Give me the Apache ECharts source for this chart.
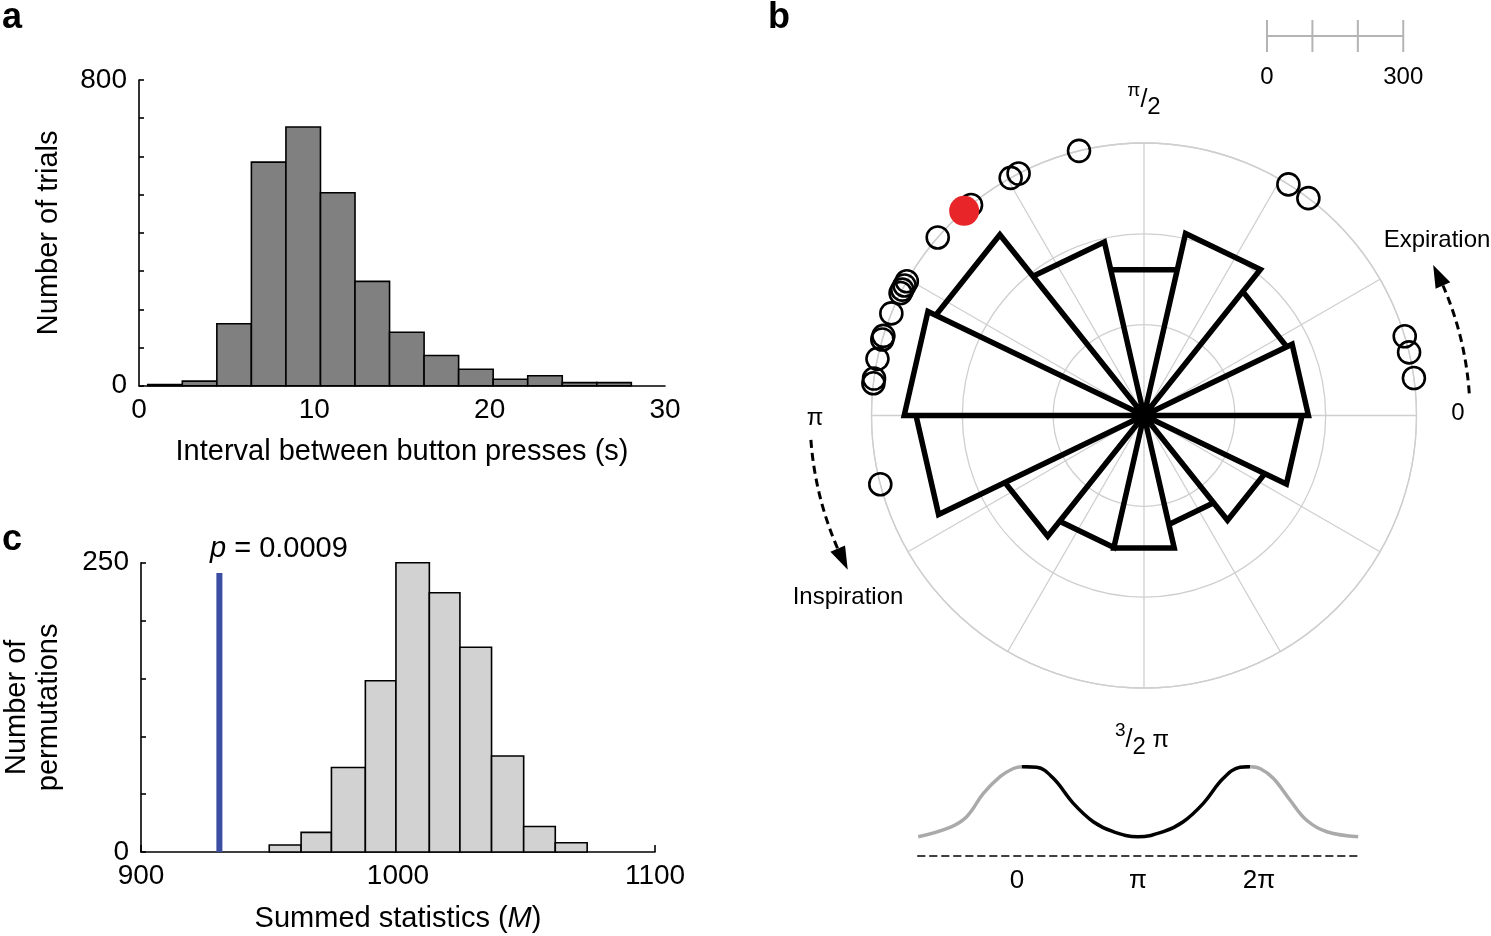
<!DOCTYPE html>
<html><head><meta charset="utf-8">
<script src="https://cdn.jsdelivr.net/npm/echarts@6/dist/echarts.min.js"></script>
<style>html,body{margin:0;padding:0;background:#fff}#c{width:1491px;height:936px}</style>
</head><body><div id="c"></div>
<script>
const FONT = "'Liberation Sans', Arial, Helvetica, sans-serif";

// ---- Panel a: interval histogram ----
const aBinEdges = [0.5, 2.47, 4.44, 6.41, 8.38, 10.35, 12.32, 14.29, 16.26, 18.23, 20.2, 22.17, 24.14, 26.11, 28.08];
const aCounts = [3, 12, 162, 585, 677, 505, 273, 140, 79, 43, 17, 26, 8, 8];
const aYLabels = [0, 800];

// ---- Panel c: permutation histogram ----
const cBinEdges = [949.9, 962.3, 974.1, 987.3, 999.2, 1012.2, 1024.1, 1036.4, 1048.9, 1061.2, 1073.6];
const cCounts = [6, 17, 73, 148, 250, 224, 177, 83, 22, 8];
const cObservedM = 930.5;
const cObservedHeight = 241;
const cYLabels = [0, 250];

// ---- Panel b: rose plot ----
const roseRadii = [362, 349, 411, 329, 392, 509, 528, 502, 340, 298, 299, 246, 295, 348];
const trialPhasesDeg = [7.9, 13.4, 16.9, 52.9, 58.0, 103.8, 117.4, 119.3, 129.4, 139.2, 150.5, 151.5, 152.5, 153.3, 158.0, 163.0, 163.8, 168.0, 172.2, 173.2, 194.6];
const meanPhaseDeg = 131.3;
const trialRadius = 600;
const scaleBarTicks = [0, 100, 200, 300];

// ---- Respiration waveform (phase in units of pi) ----
const waveLeftX  = [-0.816, -0.554, -0.416, -0.278, -0.14, -0.03, 0.04];
const waveLeftY  = [0.216, 0.321, 0.44, 0.70, 0.888, 0.98, 1.0];
const waveMidX   = [0.04, 0.163, 0.30, 0.465, 0.63, 0.796, 1.0, 1.21, 1.374, 1.54, 1.705, 1.843, 1.926];
const waveMidY   = [1.0, 0.993, 0.87, 0.59, 0.384, 0.272, 0.216, 0.272, 0.384, 0.59, 0.87, 0.993, 1.0];
const waveRightX = [1.926, 2.008, 2.118, 2.256, 2.394, 2.56, 2.82];
const waveRightY = [1.0, 0.98, 0.87, 0.627, 0.40, 0.272, 0.216];
const phaseLabels = {0: '0', 1: 'π', 2: '2π'};

// layout constants
const PC = [1144, 415.5], PR = 272.5;

const chart = echarts.init(document.getElementById('c'), null, {renderer: 'canvas'});

function histItem(fill) {
  return function (params, api) {
    const p0 = api.coord([api.value(0), 0]);
    const p1 = api.coord([api.value(1), api.value(2)]);
    return {type: 'rect', shape: {x: p0[0], y: p1[1], width: p1[0] - p0[0], height: p0[1] - p1[1]},
      style: {fill: fill, stroke: '#000', lineWidth: 1.6}};
  };
}

const aData = aCounts.map((c, i) => [aBinEdges[i], aBinEdges[i + 1], c]);
const cData = cCounts.map((c, i) => [cBinEdges[i], cBinEdges[i + 1], c]);

const binW = 360 / roseRadii.length;
const roseData = [];
roseRadii.forEach((r, i) => {
  const t0 = i * binW, t1 = (i + 1) * binW;
  roseData.push([0, t0], [r, t0], [r, t1], [0, t1]);
});

const zip = (xs, ys) => xs.map((x, i) => [x, ys[i]]);

function arcArrow(R, a0, a1, tipDeg) {
  const rad = d => d * Math.PI / 180;
  const els = [];
  els.push({type: 'arc', shape: {cx: PC[0], cy: PC[1], r: R, startAngle: -rad(a0), endAngle: -rad(a1), clockwise: false},
    style: {stroke: '#000', lineWidth: 3, lineDash: [8, 5], fill: null}});
  const t = rad(a1), tt = rad(tipDeg);
  const px = PC[0] + R * Math.cos(t), py = PC[1] - R * Math.sin(t);
  const tx = PC[0] + R * Math.cos(tt), ty = PC[1] - R * Math.sin(tt);
  const nx = Math.cos(t), ny = -Math.sin(t), W = 8;
  els.push({type: 'polygon', shape: {points: [[tx, ty], [px + nx * W, py + ny * W], [px - nx * W, py - ny * W]]},
    style: {fill: '#000'}});
  return els;
}

const pxPerUnit = PR / trialRadius;
const sbX0 = 1267, sbY = 36;
const scaleEls = [{type: 'line', shape: {x1: sbX0, y1: sbY, x2: sbX0 + scaleBarTicks[scaleBarTicks.length - 1] * pxPerUnit, y2: sbY},
  style: {stroke: '#b4b4b4', lineWidth: 2}}];
scaleBarTicks.forEach(v => scaleEls.push({type: 'line', shape: {x1: sbX0 + v * pxPerUnit, y1: 20, x2: sbX0 + v * pxPerUnit, y2: 52},
  style: {stroke: '#b4b4b4', lineWidth: 2}}));
scaleEls.push({type: 'text', x: sbX0, y: 77, style: {text: String(scaleBarTicks[0]), font: '24px ' + FONT, fill: '#000', align: 'center', verticalAlign: 'middle'}});
scaleEls.push({type: 'text', x: sbX0 + 300 * pxPerUnit, y: 77, style: {text: String(scaleBarTicks[3]), font: '24px ' + FONT, fill: '#000', align: 'center', verticalAlign: 'middle'}});

function txt(x, y, text, size, extra) {
  return {type: 'text', x: x, y: y, style: Object.assign({text: text, font: size + 'px ' + FONT, fill: '#000', align: 'center', verticalAlign: 'middle'}, extra || {})};
}

const fracRich = {
  a: {fontSize: 19, fontFamily: FONT, verticalAlign: 'top', lineHeight: 38, fill: '#000'},
  b: {fontSize: 25, fontFamily: FONT, verticalAlign: 'middle', lineHeight: 38, fill: '#000'},
  c: {fontSize: 24, fontFamily: FONT, verticalAlign: 'bottom', lineHeight: 38, fill: '#000'},
  d: {fontSize: 24, fontFamily: FONT, verticalAlign: 'middle', lineHeight: 38, fill: '#000'}
};

const graphics = [
  txt(12, 18, 'a', 36, {font: 'bold 36px ' + FONT}),
  txt(779, 18, 'b', 36, {font: 'bold 36px ' + FONT}),
  txt(12, 540, 'c', 36, {font: 'bold 36px ' + FONT}),
  {type: 'text', x: 210, y: 549, style: {text: '{i|p} = 0.0009', font: '29px ' + FONT, fill: '#000', align: 'left', verticalAlign: 'middle',
    rich: {i: {fontStyle: 'italic', fontSize: 29, fontFamily: FONT, fill: '#000'}}}},
  {type: 'text', x: 1144, y: 100, style: {text: '{a|π}{b|/}{c|2}', align: 'center', verticalAlign: 'middle', rich: fracRich}},
  {type: 'text', x: 1142, y: 740, style: {text: '{a|3}{b|/}{c|2}{d| π}', align: 'center', verticalAlign: 'middle', rich: fracRich}},
  txt(1458, 413, '0', 24),
  txt(815, 418, 'π', 24),
  txt(1437, 240, 'Expiration', 24),
  txt(848, 597, 'Inspiration', 24)
].concat(arcArrow(326, 3.9, 23.5, 27.5), arcArrow(334, 184.2, 203.5, 207.5), scaleEls);

const axisLine = {show: true, onZero: false, lineStyle: {color: '#000', width: 1.6}};
const lbl = {fontSize: 28, color: '#000', fontFamily: FONT};

chart.setOption({
  animation: false,
  backgroundColor: '#fff',
  textStyle: {fontFamily: FONT, color: '#000'},
  grid: [
    {left: 139, top: 80, width: 526, height: 305.7},
    {left: 138.5, top: 562.7, width: 516.5, height: 289.3},
    {left: 917.8, top: 766.7, width: 440.4, height: 89.3}
  ],
  xAxis: [
    {gridIndex: 0, type: 'value', min: 0, max: 30, interval: 10, axisLine: axisLine, axisTick: {show: false}, splitLine: {show: false},
      axisLabel: Object.assign({margin: 11, formatter: v => String(v)}, lbl),
      name: 'Interval between button presses (s)', nameLocation: 'middle', nameGap: 52, nameTextStyle: {fontSize: 29, color: '#000', fontFamily: FONT}},
    {gridIndex: 1, type: 'value', min: 900, max: 1100, interval: 100, axisLine: axisLine,
      axisTick: {show: true, inside: true, length: 7, lineStyle: {color: '#000', width: 1.6}}, splitLine: {show: false},
      axisLabel: Object.assign({margin: 10, formatter: v => String(v)}, lbl),
      name: 'Summed statistics ({i|M})', nameLocation: 'middle', nameGap: 52,
      nameTextStyle: {fontSize: 29, color: '#000', fontFamily: FONT, rich: {i: {fontStyle: 'italic', fontSize: 29, fontFamily: FONT, color: '#000'}}}},
    {gridIndex: 2, type: 'value', min: -0.82, max: 2.82, axisLine: {show: true, onZero: false, lineStyle: {color: '#000', width: 1.6, type: [7, 5]}},
      axisTick: {show: false}, splitLine: {show: false},
      axisLabel: {customValues: [0, 1, 2], formatter: v => phaseLabels[v] !== undefined ? phaseLabels[v] : '', fontSize: 26, color: '#000', fontFamily: FONT, margin: 12}}
  ],
  yAxis: [
    {gridIndex: 0, type: 'value', min: 0, max: 800, interval: 100, axisLine: axisLine,
      axisTick: {show: true, inside: true, length: 5, lineStyle: {color: '#000', width: 1.6}}, splitLine: {show: false},
      axisLabel: Object.assign({margin: 12, formatter: v => aYLabels.includes(v) ? String(v) : ''}, lbl),
      name: 'Number of trials', nameLocation: 'middle', nameGap: 76, nameTextStyle: {fontSize: 29, color: '#000', fontFamily: FONT}},
    {gridIndex: 1, type: 'value', min: 0, max: 250, interval: 50, axisLine: axisLine,
      axisTick: {show: true, inside: true, length: 5, lineStyle: {color: '#000', width: 1.6}}, splitLine: {show: false},
      axisLabel: Object.assign({margin: 12, formatter: v => cYLabels.includes(v) ? String(v) : ''}, lbl),
      name: 'Number of\npermutations', nameLocation: 'middle', nameGap: 76, nameTextStyle: {fontSize: 29, lineHeight: 32, color: '#000', fontFamily: FONT}},
    {gridIndex: 2, type: 'value', min: 0, max: 1, show: false}
  ],
  polar: {center: PC, radius: PR},
  angleAxis: {type: 'value', min: 0, max: 360, interval: 30, startAngle: 0, clockwise: false,
    axisLine: {show: true, lineStyle: {color: '#cfcfcf', width: 1.3}}, axisTick: {show: false}, axisLabel: {show: false},
    splitLine: {show: true, lineStyle: {color: '#cfcfcf', width: 1.3}}},
  radiusAxis: {type: 'value', min: 0, max: 600, interval: 200, axisLine: {show: false}, axisTick: {show: false}, axisLabel: {show: false},
    splitLine: {show: true, lineStyle: {color: '#cfcfcf', width: 1.3}}},
  graphic: graphics,
  series: [
    {type: 'custom', xAxisIndex: 0, yAxisIndex: 0, data: aData, encode: {x: [0, 1], y: 2}, renderItem: histItem('#808080')},
    {type: 'custom', xAxisIndex: 1, yAxisIndex: 1, data: cData, encode: {x: [0, 1], y: 2}, renderItem: histItem('#d2d2d2')},
    {type: 'custom', xAxisIndex: 1, yAxisIndex: 1, data: [[cObservedM, cObservedHeight]], encode: {x: 0, y: 1}, z: 5,
      renderItem: function (params, api) {
        const p0 = api.coord([api.value(0), 0]), p1 = api.coord([api.value(0), api.value(1)]);
        return {type: 'rect', shape: {x: p0[0] - 3, y: p1[1], width: 6, height: p0[1] - p1[1]}, style: {fill: '#3b4ea3'}};
      }},
    {type: 'line', coordinateSystem: 'polar', data: roseData, symbol: 'none', z: 4,
      lineStyle: {color: '#000', width: 5.5, join: 'miter'}},
    {type: 'scatter', coordinateSystem: 'polar', data: trialPhasesDeg.map(a => [trialRadius, a]), symbol: 'circle', symbolSize: 22, z: 5,
      itemStyle: {color: 'rgba(255,255,255,0)', borderColor: '#000', borderWidth: 2.6, opacity: 1}},
    {type: 'scatter', coordinateSystem: 'polar', data: [[trialRadius, meanPhaseDeg]], symbol: 'circle', symbolSize: 30, z: 6,
      itemStyle: {color: '#e8262a', opacity: 1}},
    {type: 'line', xAxisIndex: 2, yAxisIndex: 2, data: zip(waveLeftX, waveLeftY), smooth: 0.4, symbol: 'none', lineStyle: {color: '#aaaaaa', width: 3.5}},
    {type: 'line', xAxisIndex: 2, yAxisIndex: 2, data: zip(waveMidX, waveMidY), smooth: 0.4, symbol: 'none', lineStyle: {color: '#000', width: 3.5}, z: 3},
    {type: 'line', xAxisIndex: 2, yAxisIndex: 2, data: zip(waveRightX, waveRightY), smooth: 0.4, symbol: 'none', lineStyle: {color: '#aaaaaa', width: 3.5}}
  ]
});
</script></body></html>
